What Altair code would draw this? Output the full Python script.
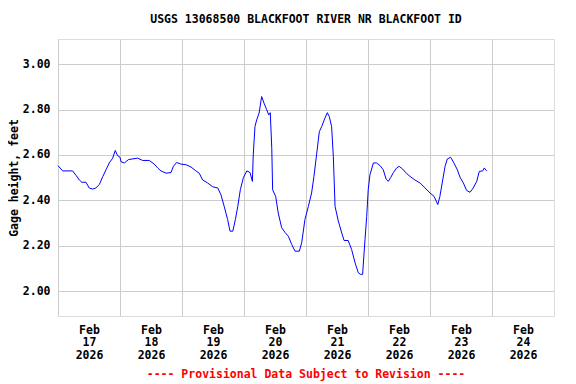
import altair as alt
import pandas as pd

TITLE = "USGS 13068500 BLACKFOOT RIVER NR BLACKFOOT ID"
Y_TITLE = "Gage height, feet"
FOOTER = "---- Provisional Data Subject to Revision ----"

times = [
    "2026-02-17T00:00", "2026-02-17T01:50", "2026-02-17T05:40", "2026-02-17T07:00",
    "2026-02-17T08:15", "2026-02-17T09:15", "2026-02-17T10:50", "2026-02-17T12:05",
    "2026-02-17T13:25", "2026-02-17T14:40", "2026-02-17T16:00", "2026-02-17T17:20",
    "2026-02-17T18:35", "2026-02-17T19:50", "2026-02-17T21:10", "2026-02-17T22:10",
    "2026-02-17T23:05", "2026-02-18T00:00", "2026-02-18T00:25", "2026-02-18T01:40",
    "2026-02-18T03:20", "2026-02-18T06:50", "2026-02-18T08:45", "2026-02-18T11:20",
    "2026-02-18T13:15", "2026-02-18T14:35", "2026-02-18T15:50", "2026-02-18T17:50",
    "2026-02-18T19:45", "2026-02-18T20:40", "2026-02-18T21:55", "2026-02-18T23:35",
    "2026-02-19T01:35", "2026-02-19T03:30", "2026-02-19T05:10", "2026-02-19T06:40",
    "2026-02-19T08:00", "2026-02-19T09:55", "2026-02-19T11:55", "2026-02-19T13:50",
    "2026-02-19T15:05", "2026-02-19T16:20", "2026-02-19T17:40", "2026-02-19T18:35",
    "2026-02-19T19:40", "2026-02-19T20:40", "2026-02-19T21:35", "2026-02-19T22:35",
    "2026-02-19T23:45", "2026-02-20T01:05", "2026-02-20T02:20", "2026-02-20T03:15",
    "2026-02-20T03:35", "2026-02-20T04:15", "2026-02-20T04:55", "2026-02-20T05:50",
    "2026-02-20T06:50", "2026-02-20T07:45", "2026-02-20T08:45", "2026-02-20T09:35",
    "2026-02-20T10:10", "2026-02-20T10:45", "2026-02-20T11:05", "2026-02-20T12:15",
    "2026-02-20T13:15", "2026-02-20T14:35", "2026-02-20T15:50", "2026-02-20T17:10",
    "2026-02-20T18:30", "2026-02-20T19:45", "2026-02-20T21:25", "2026-02-20T22:20",
    "2026-02-20T23:35", "2026-02-21T00:55", "2026-02-21T02:10", "2026-02-21T03:05",
    "2026-02-21T04:10", "2026-02-21T05:10", "2026-02-21T06:05", "2026-02-21T07:20",
    "2026-02-21T08:15", "2026-02-21T09:00", "2026-02-21T09:55", "2026-02-21T10:35",
    "2026-02-21T11:15", "2026-02-21T12:30", "2026-02-21T13:50", "2026-02-21T14:45",
    "2026-02-21T16:20", "2026-02-21T17:40", "2026-02-21T19:00", "2026-02-21T20:15",
    "2026-02-21T21:10", "2026-02-21T21:55", "2026-02-21T22:50", "2026-02-21T23:30",
    "2026-02-22T00:05", "2026-02-22T00:45", "2026-02-22T02:05", "2026-02-22T03:20",
    "2026-02-22T04:40", "2026-02-22T05:55", "2026-02-22T07:00", "2026-02-22T07:50",
    "2026-02-22T08:45", "2026-02-22T09:50", "2026-02-22T11:05", "2026-02-22T12:05",
    "2026-02-22T13:25", "2026-02-22T15:00", "2026-02-22T16:15", "2026-02-22T18:10",
    "2026-02-22T20:10", "2026-02-22T22:05", "2026-02-23T00:00", "2026-02-23T01:35",
    "2026-02-23T03:00", "2026-02-23T03:50", "2026-02-23T04:55", "2026-02-23T05:50",
    "2026-02-23T06:40", "2026-02-23T08:00", "2026-02-23T09:15", "2026-02-23T10:35",
    "2026-02-23T11:35", "2026-02-23T12:55", "2026-02-23T14:10", "2026-02-23T15:30",
    "2026-02-23T16:45", "2026-02-23T18:05", "2026-02-23T19:05", "2026-02-23T20:25",
    "2026-02-23T21:00", "2026-02-23T21:55",
]

heights = [
    2.553, 2.53, 2.53, 2.51,
    2.49, 2.48, 2.48, 2.455,
    2.45, 2.455, 2.47, 2.505,
    2.535, 2.565, 2.586, 2.62,
    2.597, 2.59, 2.57, 2.565,
    2.58, 2.586, 2.576, 2.576,
    2.56, 2.543, 2.53, 2.52,
    2.523, 2.55, 2.567, 2.56,
    2.557, 2.547, 2.532, 2.52,
    2.49, 2.477, 2.46, 2.455,
    2.425, 2.374, 2.316, 2.265,
    2.265, 2.316, 2.374, 2.447,
    2.50, 2.53, 2.523, 2.484,
    2.60, 2.725, 2.754, 2.784,
    2.857, 2.828, 2.80, 2.776,
    2.786, 2.63, 2.447, 2.418,
    2.345, 2.28, 2.26, 2.243,
    2.206, 2.177, 2.177, 2.214,
    2.316, 2.374, 2.433, 2.506,
    2.608, 2.703, 2.725, 2.762,
    2.786, 2.769, 2.725, 2.593,
    2.374, 2.31, 2.257, 2.224,
    2.224, 2.184, 2.126, 2.082,
    2.075, 2.075, 2.228, 2.33,
    2.447, 2.513, 2.565, 2.565,
    2.553, 2.535, 2.494, 2.484,
    2.50, 2.523, 2.543, 2.55,
    2.538, 2.518, 2.506, 2.49,
    2.477, 2.455, 2.433, 2.418,
    2.382, 2.418, 2.49, 2.55,
    2.582, 2.59, 2.565, 2.535,
    2.503, 2.477, 2.444, 2.436,
    2.455, 2.484, 2.528, 2.53,
    2.543, 2.53,
]

y_ticks = [2.0, 2.2, 2.4, 2.6, 2.8, 3.0]
day_ticks = [17, 18, 19, 20, 21, 22, 23, 24]

FONT = "DejaVu Sans Mono"

df = pd.DataFrame({"time": times, "height": heights})

x_scale = alt.Scale(
    domain=[alt.DateTime(year=2026, month=2, date=17),
            alt.DateTime(year=2026, month=2, date=25)]
)
y_scale = alt.Scale(domain=[1.892, 3.11], nice=False, zero=False)

line = alt.Chart(df).mark_line(color="#0000ff", strokeWidth=1).encode(
    x=alt.X(
        "time:T",
        scale=x_scale,
        axis=alt.Axis(
            values=[alt.DateTime(year=2026, month=2, date=d) for d in day_ticks],
            labelExpr="[timeFormat(datum.value, '%b'), timeFormat(datum.value, '%d'), timeFormat(datum.value, '%Y')]",
            labelOffset=31,
            labelAlign="center",
            labelPadding=8,
            labelLineHeight=12.8,
            labelFont=FONT,
            labelFontSize=11.5,
            labelFontWeight="bold",
            labelColor="#000000",
            ticks=False,
            domain=False,
            grid=True,
            gridColor="#cccccc",
            gridWidth=1,
            title=None,
        ),
    ),
    y=alt.Y(
        "height:Q",
        scale=y_scale,
        axis=alt.Axis(
            values=y_ticks,
            format=".2f",
            labelFont=FONT,
            labelFontSize=11.5,
            labelFontWeight="bold",
            labelColor="#000000",
            labelPadding=8,
            ticks=False,
            domain=False,
            grid=True,
            gridColor="#cccccc",
            gridWidth=1,
            title=Y_TITLE,
            titleFont=FONT,
            titleFontSize=11.5,
            titleFontWeight="bold",
            titleColor="#000000",
            titlePadding=3,
        ),
    ),
)

footer = alt.Chart(pd.DataFrame({"t": [FOOTER]})).mark_text(
    font=FONT, fontSize=11.5, fontWeight="bold", color="#ff0000", baseline="middle", align="center"
).encode(text="t:N", x=alt.value(248), y=alt.value(336))

chart = alt.layer(line, footer).properties(
    width=496,
    height=277,
    title=alt.TitleParams(
        TITLE, font=FONT, fontSize=11.5, fontWeight="bold", color="#000000",
        anchor="middle", offset=14,
    ),
    autosize=alt.AutoSizeParams(type="none"),
    padding={"left": 50, "top": 31, "right": 14, "bottom": 66},
).configure_view(
    stroke="#000000", strokeWidth=1
).configure(background="#ffffff")

chart.save("out.html", embed_options={"renderer": "svg", "actions": False})
